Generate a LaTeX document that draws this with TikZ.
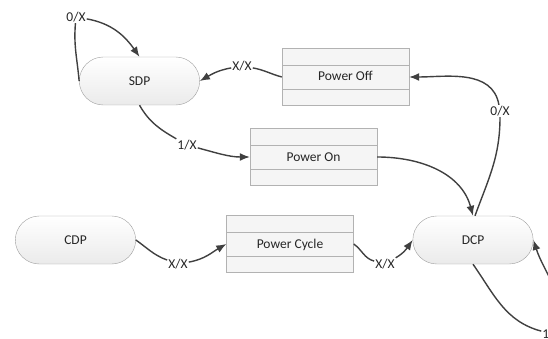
\documentclass[tikz,border=0pt]{standalone}
\usepackage{fontspec}
\setmainfont{Carlito}
\usetikzlibrary{arrows.meta,shapes.misc,shapes.multipart}

\begin{document}
\begin{tikzpicture}[x=1pt,y=-1pt,>={Latex[length=10pt,width=8pt]},
		state/.style={rounded rectangle,draw=gray!75,top color=white,bottom color=gray!16,minimum width=127pt,minimum height=48pt,text=black!85,font=\fontsize{13.5}{16}\selectfont},
		act/.style={rectangle split,rectangle split parts=3,draw=gray!60,fill=gray!8,minimum width=127pt,inner ysep=0pt,rectangle split empty part height=16pt,rectangle split empty part depth=0pt,text=black!85,font=\fontsize{13.5}{16}\selectfont},
		tr/.style={line width=1.4pt,draw=black!75},
		lbl/.style={inner sep=1pt,text=black!85,font=\fontsize{13.5}{16}\selectfont}]
		\path[use as bounding box] (0,0) rectangle (548,339);
		\clip (0,0) rectangle (548,339);

		\node[state] (sdp) at (139.5,81) {SDP};
		\node[state] (cdp) at (75.5,240) {CDP};
		\node[state] (dcp) at (473,240) {DCP};
		\node[act] (poff) at (345.5,77) {\nodepart{two}\rule[-8pt]{0pt}{24pt}Power Off\nodepart{three}};
		\node[act] (pon) at (313.5,157) {\nodepart{two}\rule[-8pt]{0pt}{24pt}Power On\nodepart{three}};
		\node[act] (pcyc) at (290,244) {\nodepart{two}\rule[-8pt]{0pt}{24pt}Power Cycle\nodepart{three}};

		\node[lbl] (lsdp) at (76,17) {0/X};
		\node[lbl] (loff) at (242,66) {X/X};
		\node[lbl] (lon) at (187,145) {1/X};
		\node[lbl] (ldcp) at (500,111) {0/X};
		\node[lbl] (lcdp) at (178,264) {X/X};
		\node[lbl] (lcyc) at (385,264) {X/X};
		\node[lbl] (lloop) at (552,334) {1/X};

		\draw[tr] (sdp.west) to[out=95,in=-95] (lsdp);
		\draw[tr,->] (lsdp) to[out=-10,in=125] (sdp.north);
		\draw[tr] (poff.west) to[out=165,in=-10] (loff);
		\draw[tr,->] (loff) to[out=190,in=30] (sdp.east);
		\draw[tr] (sdp.south) to[out=-60,in=150] (lon);
		\draw[tr,->] (lon) to[out=-15,in=180] (pon.west);
		\draw[tr,->] (pon.east) to[out=0,in=105] (dcp.north);
		\draw[tr] ([xshift=2pt]dcp.north) to[out=70,in=-90] (ldcp);
		\draw[tr,->] (ldcp) to[out=100,in=0] (poff.east);
		\draw[tr] (cdp.east) to[out=-35,in=160] (lcdp);
		\draw[tr,->] (lcdp) to[out=10,in=-150] (pcyc.west);
		\draw[tr] (pcyc.east) to[out=-35,in=165] (lcyc);
		\draw[tr,->] (lcyc) to[out=30,in=-125] (dcp.west);
		\draw[tr] (dcp.south) to[out=-55,in=165] (lloop);
		\draw[tr,->] (lloop) to[out=70,in=-72] (dcp.east);

\end{tikzpicture}
\end{document}
